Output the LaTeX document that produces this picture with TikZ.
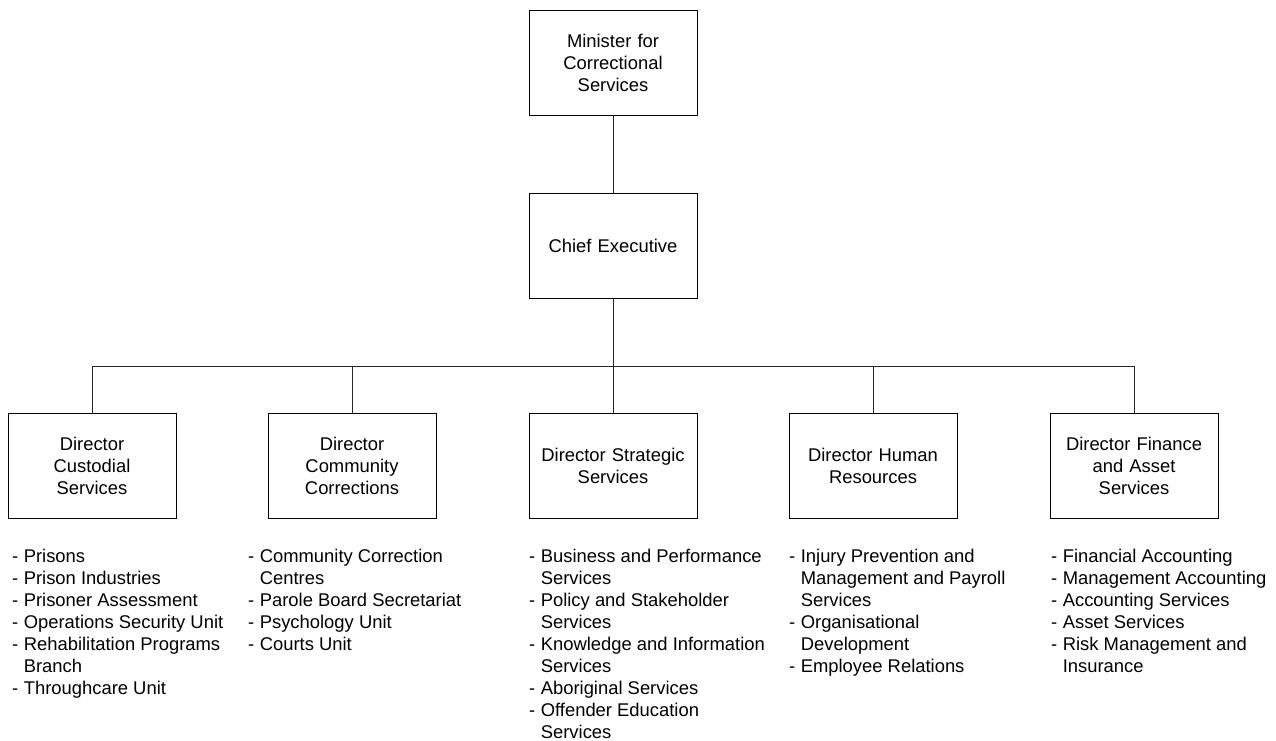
\documentclass[tikz,border=0pt]{standalone}
\usepackage{fontspec}
\setmainfont{Liberation Sans}
\begin{document}
\begin{tikzpicture}[x=1pt,y=-1pt,
  orgbox/.style={draw=black, line width=0.8pt, minimum width=168pt, minimum height=105pt,
    align=center, text width=160pt, inner sep=0pt, font=\fontsize{18.4}{22}\selectfont},
  link/.style={draw=black!85, line width=0.8pt},
  duties/.style={anchor=base west, inner sep=0pt, font=\fontsize{18.4}{22}\selectfont}]
\useasboundingbox (0,0) rectangle (1276,740);

% management chain
\node[orgbox] (min) at (613,62.5) {Minister for\\Correctional\\Services};
\node[orgbox] (ce) at (613,245.5) {Chief Executive};

% directorates
\node[orgbox] (d1) at (92,466) {Director\\Custodial\\Services};
\node[orgbox] (d2) at (352,466) {Director\\Community\\Corrections};
\node[orgbox] (d3) at (613,466) {Director Strategic\\Services};
\node[orgbox] (d4) at (873,466) {Director Human\\Resources};
\node[orgbox] (d5) at (1134,466) {Director Finance\\and Asset\\Services};

\coordinate (bus) at (613,366);

\draw[link] (min) -- (ce);
\draw[link] (ce) -- (bus);
\draw[link] (d1.north |- bus) -- (d5.north |- bus);
\foreach \d in {d1,d2,d3,d4,d5}
  \draw[link] (\d.north) -- (\d.north |- bus);

% functions of each directorate
\newcommand{\dutylist}[1]{\begin{tabular}[t]{@{}l@{\hspace{5.5pt}}l@{}}#1\end{tabular}}
\node[duties] (l1) at (12,562) {\dutylist{
  -&Prisons\\
  -&Prison Industries\\
  -&Prisoner Assessment\\
  -&Operations Security Unit\\
  -&Rehabilitation Programs\\
   &Branch\\
  -&Throughcare Unit}};
\node[duties] (l2) at (248,562) {\dutylist{
  -&Community Correction\\
   &Centres\\
  -&Parole Board Secretariat\\
  -&Psychology Unit\\
  -&Courts Unit}};
\node[duties] (l3) at (529,562) {\dutylist{
  -&Business and Performance\\
   &Services\\
  -&Policy and Stakeholder\\
   &Services\\
  -&Knowledge and Information\\
   &Services\\
  -&Aboriginal Services\\
  -&Offender Education\\
   &Services}};
\node[duties] (l4) at (789,562) {\dutylist{
  -&Injury Prevention and\\
   &Management and Payroll\\
   &Services\\
  -&Organisational\\
   &Development\\
  -&Employee Relations}};
\node[duties] (l5) at (1051,562) {\dutylist{
  -&Financial Accounting\\
  -&Management Accounting\\
  -&Accounting Services\\
  -&Asset Services\\
  -&Risk Management and\\
   &Insurance}};
\end{tikzpicture}
\end{document}
